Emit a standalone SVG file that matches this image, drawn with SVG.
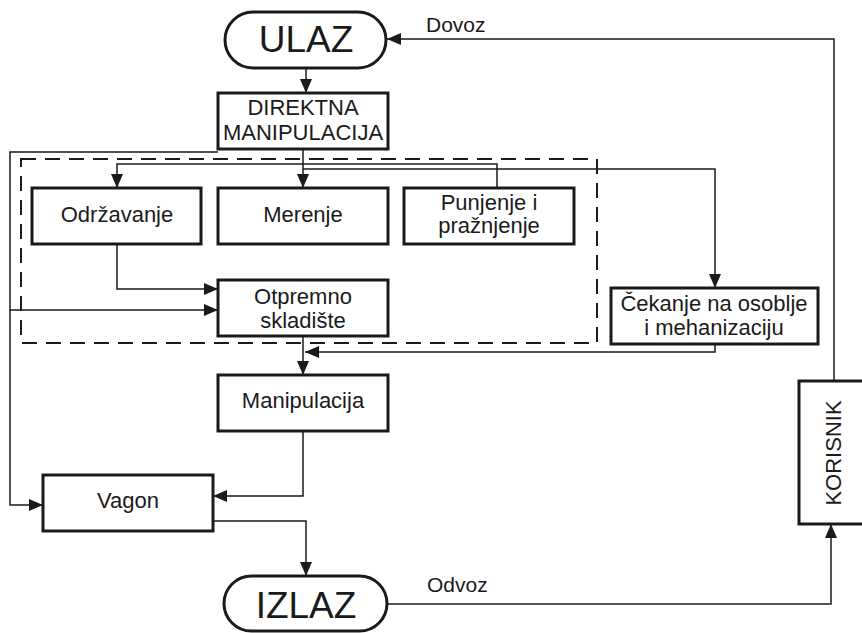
<svg xmlns="http://www.w3.org/2000/svg" width="862" height="633" viewBox="0 0 862 633">
<defs>
<marker id="ah" markerWidth="14" markerHeight="12" refX="14" refY="6" orient="auto" markerUnits="userSpaceOnUse">
<path d="M0,0 L14,6 L0,12 z" fill="#1a1a1a"/>
</marker>
<style>
.box{fill:#fff;stroke:#1a1a1a;stroke-width:3}
.t{font-family:"Liberation Sans",Arial,sans-serif;font-size:22px;fill:#1a1a1a;text-anchor:middle}
.big{font-size:37px}
.lbl{font-family:"Liberation Sans",Arial,sans-serif;font-size:21px;fill:#1a1a1a}
.c{fill:none;stroke:#1a1a1a;stroke-width:1.5}
.ca{fill:none;stroke:#1a1a1a;stroke-width:1.5;marker-end:url(#ah)}
.dash{fill:none;stroke:#1a1a1a;stroke-width:2;stroke-dasharray:15 9}
</style>
</defs>
<rect width="862" height="633" fill="#fff"/>
<rect id="group-boundary" class="dash" x="21" y="159" width="576" height="184"/>
<g id="connectors">
<path class="ca" d="M306,68 V93"/>
<path class="ca" d="M303,149 V188"/>
<path class="ca" d="M218,152 H10 V505 H43"/>
<path class="ca" d="M10,310 H218"/>
<path class="ca" d="M497,188 V164 H117 V188"/>
<path class="ca" d="M303,169 H715 V288"/>
<path class="ca" d="M117,244 V289 H218"/>
<path class="ca" d="M303,336 V375"/>
<path class="ca" d="M715,344 V352 H305"/>
<path class="ca" d="M303,431 V496 H213"/>
<path class="ca" d="M213,521 H306 V576"/>
<path class="ca" d="M387,604 H831 V524"/>
<path class="ca" d="M834,381 V39 H387"/>
<text class="lbl" x="426" y="32">Dovoz</text>
<text class="lbl" x="427" y="592">Odvoz</text>
</g>
<g id="ulaz"><rect class="box" x="225" y="12" width="161" height="56" rx="28"/><text class="t big" x="306" y="52">ULAZ</text></g>
<g id="direktna"><rect class="box" x="218" y="93" width="170" height="56"/><text class="t" x="303" y="115">DIREKTNA</text><text class="t" x="303" y="140">MANIPULACIJA</text></g>
<g id="odrzavanje"><rect class="box" x="32" y="188" width="169" height="56"/><text class="t" x="117" y="222">Održavanje</text></g>
<g id="merenje"><rect class="box" x="218" y="188" width="170" height="56"/><text class="t" x="303" y="222">Merenje</text></g>
<g id="punjenje"><rect class="box" x="404" y="188" width="170" height="56"/><text class="t" x="489" y="210">Punjenje i</text><text class="t" x="489" y="233">pražnjenje</text></g>
<g id="otpremno"><rect class="box" x="218" y="280" width="170" height="56"/><text class="t" x="303" y="304">Otpremno</text><text class="t" x="303" y="328">skladište</text></g>
<g id="cekanje"><rect class="box" x="611" y="288" width="207" height="56"/><text class="t" x="714" y="311">Čekanje na osoblje</text><text class="t" x="714" y="335">i mehanizaciju</text></g>
<g id="manipulacija"><rect class="box" x="218" y="375" width="170" height="56"/><text class="t" x="303" y="408">Manipulacija</text></g>
<g id="vagon"><rect class="box" x="43" y="475" width="170" height="56"/><text class="t" x="128" y="508">Vagon</text></g>
<g id="izlaz"><rect class="box" x="224" y="576" width="163" height="55" rx="27.5"/><text class="t big" x="306" y="618">IZLAZ</text></g>
<g id="korisnik"><rect class="box" x="799" y="381" width="72" height="143"/><text class="t" transform="translate(841,453) rotate(-90)" x="0" y="0">KORISNIK</text></g>
</svg>
